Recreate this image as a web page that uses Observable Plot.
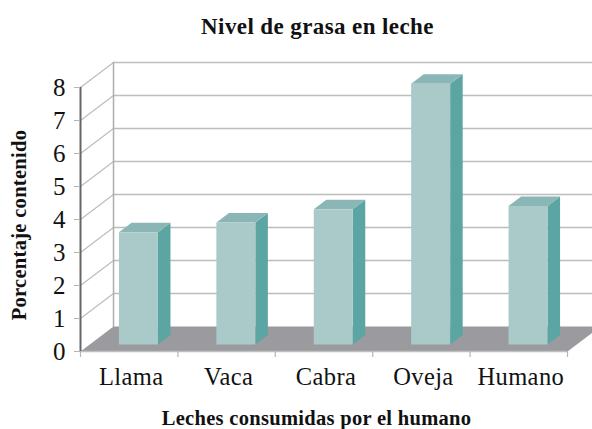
<!DOCTYPE html>
<html lang="es">
<head>
<meta charset="utf-8">
<script src="https://cdn.jsdelivr.net/npm/d3@7"></script>
<script src="https://cdn.jsdelivr.net/npm/@observablehq/plot@0.6"></script>
<style>
  html, body { margin: 0; padding: 0; background: #fff; overflow: hidden; }
  #title { height: 50px; width: 549px; padding-left: 43px; text-align: center; font: bold 23px/54px "Liberation Serif", serif; color: #111; letter-spacing: .4px; }
  .axis-title text { letter-spacing: .3px; }
  .category text { letter-spacing: .4px; }
</style>
</head>
<body>
<div id="title">Nivel de grasa en leche</div>
<div id="chart"></div>
<script>
const categories = ["Llama", "Vaca", "Cabra", "Oveja", "Humano"];
const fatPercent = [3.4, 3.7, 4.1, 7.9, 4.2];
const yTicks = [0, 1, 2, 3, 4, 5, 6, 7, 8];
const xTicks = [0, 1, 2, 3, 4, 5];
const titleX = "Leches consumidas por el humano";
const titleY = "Porcentaje contenido";

// Oblique projection of the 3-D box, in scale units (categories, percent)
const depthX = 0.339, depthY = 0.758;
const barDepth0 = 0.28, barDepth1 = 0.66, barWidth = 0.4;
const project = (cat, val, d) => ({x: cat + d * depthX, y: val + d * depthY});

const faces = {front: [], side: [], top: []};
fatPercent.forEach((v, i) => {
  const l = i + 0.5 - barWidth / 2 + barDepth0 * depthX, r = l + barWidth;
  const dd = barDepth1 - barDepth0;
  const base = barDepth0 * depthY;
  const P = (x, y, d) => ({id: i, x: x + d * dd * depthX, y: y + base + d * dd * depthY});
  faces.front.push(P(l, 0, 0), P(r, 0, 0), P(r, v, 0), P(l, v, 0));
  faces.side.push(P(r, 0, 0), P(r, 0, 1), P(r, v, 1), P(r, v, 0));
  faces.top.push(P(l, v, 0), P(r, v, 0), P(r, v, 1), P(l, v, 1));
});

const xMax = xTicks[xTicks.length - 1], yMax = yTicks[yTicks.length - 1];
const floor = [project(0, 0, 0), project(xMax, 0, 0), project(xMax, 0, 1), project(0, 0, 1)];
const gridBack = yTicks.slice(1).flatMap(v => [{id: v, ...project(0, v, 1)}, {id: v, ...project(xMax, v, 1)}]);
const gridSide = yTicks.slice(1).flatMap(v => [{id: v, ...project(0, v, 0)}, {id: v, ...project(0, v, 1)}]);
const wall = [project(0, 0, 1), project(0, yMax, 1)];

const serif = "'Liberation Serif', serif";
const chart = Plot.plot({
  width: 592, height: 379,
  marginLeft: 80, marginRight: 25, marginTop: 37, marginBottom: 78,
  x: {domain: [0, xMax], axis: null},
  y: {domain: [0, yMax], axis: null},
  style: {fontFamily: serif, background: "#fff", color: "#111"},
  marks: [
    Plot.line(gridBack, {x: "x", y: "y", z: "id", stroke: "#bdbdbd", strokeWidth: 1.3}),
    Plot.line(gridSide, {x: "x", y: "y", z: "id", stroke: "#bdbdbd", strokeWidth: 1.2}),
    Plot.line(wall, {x: "x", y: "y", stroke: "#aeaeae", strokeWidth: 1.5}),
    Plot.line(floor, {x: "x", y: "y", fill: "#9b9b9f", stroke: "none"}),
    Plot.line(faces.side, {x: "x", y: "y", z: "id", fill: "#5ba5a3", stroke: "none"}),
    Plot.line(faces.top, {x: "x", y: "y", z: "id", fill: "#8ab7b6", stroke: "none"}),
    Plot.line(faces.front, {x: "x", y: "y", z: "id", fill: "#aacac9", stroke: "none"}),
    Plot.ruleY([0], {stroke: "#c0c0c0", strokeWidth: 1.5}),
    Plot.axisX(xTicks, {tickSize: 6, tickFormat: () => "", stroke: "#b5b5b5", strokeWidth: 1.2, label: null, anchor: "bottom"}),
    Plot.ruleX([0], {stroke: "#666", strokeWidth: 2}),
    Plot.axisY(yTicks, {anchor: "left", tickSize: 6, tickPadding: 9, stroke: "#b5b5b5", fontSize: 25, label: null, color: "#111"}),
    Plot.text(categories, {x: (d, i) => i + 0.5, y: 0, text: d => d, dy: 26, dx: 2, fontSize: 24.5, fill: "#111", className: "category"}),
    Plot.text([titleX], {frameAnchor: "bottom", dx: -7.5, dy: 73, fontSize: 20.5, fontWeight: "bold", fill: "#111", text: d => d, className: "axis-title"}),
    Plot.text([titleY], {frameAnchor: "left", textAnchor: "middle", rotate: -90, dx: -61, dy: 5.5, fontSize: 20.5, fontWeight: "bold", fill: "#111", text: d => d, className: "axis-title"})
  ]
});
document.getElementById("chart").appendChild(chart);
</script>
</body>
</html>
